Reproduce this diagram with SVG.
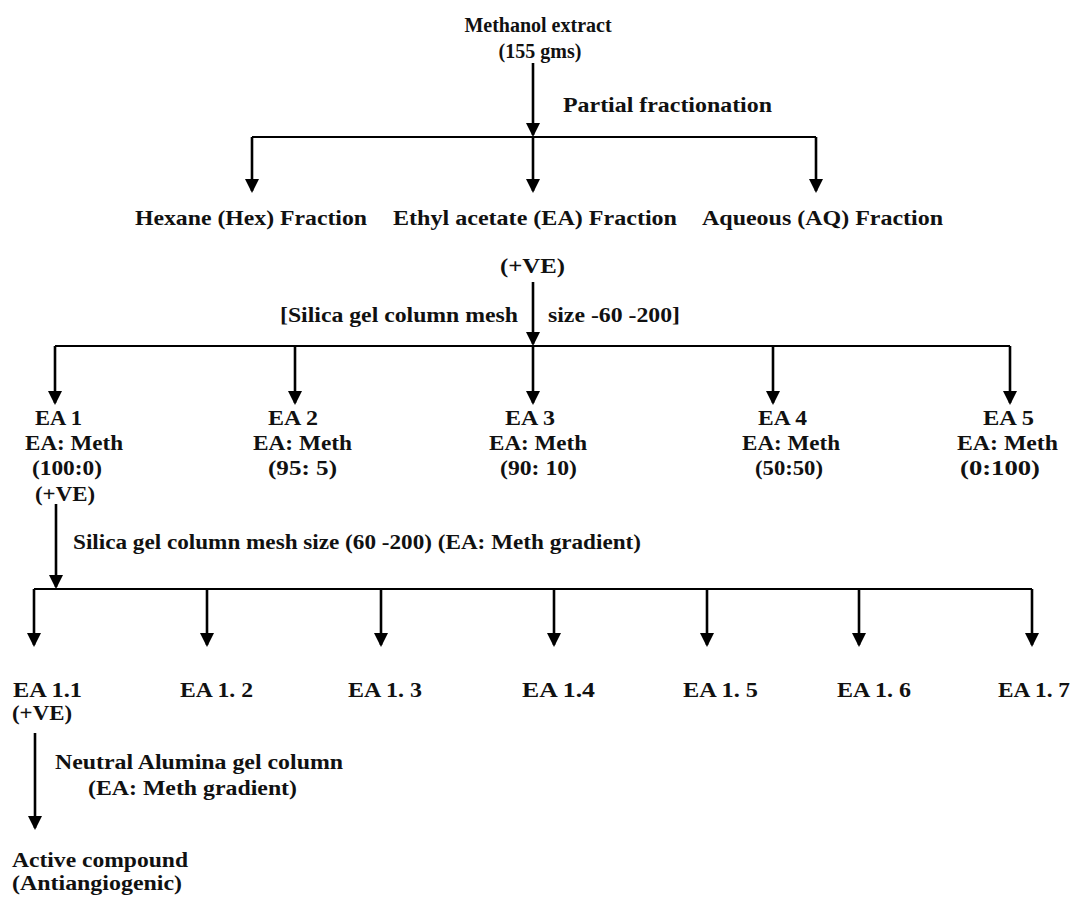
<svg xmlns="http://www.w3.org/2000/svg" width="1078" height="897" viewBox="0 0 1078 897">
<defs>
<marker id="ah" viewBox="0 0 14 14" markerWidth="14" markerHeight="14" refX="12" refY="7" orient="auto" markerUnits="userSpaceOnUse">
<path d="M0,0 L14,7 L0,14 z" fill="#000"/>
</marker>
<style>
text{font-family:"Liberation Serif","Times New Roman",serif;font-weight:bold;font-size:20px;fill:#111}
.big{font-size:20px}
.ln{stroke:#000;stroke-width:2;fill:none}
.ar{stroke:#000;stroke-width:2.6;fill:none;marker-end:url(#ah)}
</style>
</defs>
<rect width="1078" height="897" fill="#fff"/>
<g id="connectors">
<line class="ar" x1="533" y1="63" x2="533" y2="135"/>
<line class="ln" x1="252" y1="137" x2="816" y2="137"/>
<line class="ar" x1="252" y1="137" x2="252" y2="191"/>
<line class="ar" x1="533" y1="137" x2="533" y2="191"/>
<line class="ar" x1="816" y1="137" x2="816" y2="191"/>
<line class="ar" x1="533" y1="282" x2="533" y2="344"/>
<line class="ln" x1="55" y1="346" x2="1010" y2="346"/>
<line class="ar" x1="55" y1="346" x2="55" y2="403"/>
<line class="ar" x1="295" y1="346" x2="295" y2="403"/>
<line class="ar" x1="533" y1="346" x2="533" y2="403"/>
<line class="ar" x1="773" y1="346" x2="773" y2="403"/>
<line class="ar" x1="1010" y1="346" x2="1010" y2="403"/>
<line class="ar" x1="56" y1="504" x2="56" y2="587"/>
<line class="ln" x1="34" y1="589" x2="1032" y2="589"/>
<line class="ar" x1="34" y1="589" x2="34" y2="645"/>
<line class="ar" x1="207" y1="589" x2="207" y2="645"/>
<line class="ar" x1="381" y1="589" x2="381" y2="645"/>
<line class="ar" x1="554" y1="589" x2="554" y2="645"/>
<line class="ar" x1="707" y1="589" x2="707" y2="645"/>
<line class="ar" x1="859" y1="589" x2="859" y2="645"/>
<line class="ar" x1="1032" y1="589" x2="1032" y2="645"/>
<line class="ar" x1="35" y1="733" x2="35" y2="828"/>
</g>
<g id="methanol">
<text class="big" x="538" y="32" text-anchor="middle">Methanol extract</text>
<text class="big" x="540" y="58" text-anchor="middle">(155 gms)</text>
</g>
<g id="label-partial">
<text x="563" y="112" textLength="209" lengthAdjust="spacingAndGlyphs">Partial fractionation</text>
</g>
<g id="hexane">
<text x="135" y="225" textLength="232" lengthAdjust="spacingAndGlyphs">Hexane (Hex) Fraction</text>
</g>
<g id="ethyl-acetate">
<text x="393" y="225" textLength="284" lengthAdjust="spacingAndGlyphs">Ethyl acetate (EA) Fraction</text>
<text x="500" y="273" textLength="65" lengthAdjust="spacingAndGlyphs">(+VE)</text>
</g>
<g id="aqueous">
<text x="702" y="225" textLength="241" lengthAdjust="spacingAndGlyphs">Aqueous (AQ) Fraction</text>
</g>
<g id="label-silica1">
<text x="280" y="322" textLength="238" lengthAdjust="spacingAndGlyphs">[Silica gel column mesh</text>
<text x="548" y="322" textLength="132" lengthAdjust="spacingAndGlyphs">size -60 -200]</text>
</g>
<g id="ea1">
<text x="35" y="425" textLength="47" lengthAdjust="spacingAndGlyphs">EA 1</text>
<text x="25" y="450" textLength="98" lengthAdjust="spacingAndGlyphs">EA: Meth</text>
<text x="32" y="475" textLength="70" lengthAdjust="spacingAndGlyphs">(100:0)</text>
<text x="35" y="501" textLength="60" lengthAdjust="spacingAndGlyphs">(+VE)</text>
</g>
<g id="ea2">
<text x="268" y="425" textLength="50" lengthAdjust="spacingAndGlyphs">EA 2</text>
<text x="253" y="450" textLength="99" lengthAdjust="spacingAndGlyphs">EA: Meth</text>
<text x="268" y="475" textLength="69" lengthAdjust="spacingAndGlyphs">(95: 5)</text>
</g>
<g id="ea3">
<text x="505" y="425" textLength="50" lengthAdjust="spacingAndGlyphs">EA 3</text>
<text x="489" y="450" textLength="98" lengthAdjust="spacingAndGlyphs">EA: Meth</text>
<text x="500" y="475" textLength="77" lengthAdjust="spacingAndGlyphs">(90: 10)</text>
</g>
<g id="ea4">
<text x="758" y="425" textLength="49" lengthAdjust="spacingAndGlyphs">EA 4</text>
<text x="742" y="450" textLength="98" lengthAdjust="spacingAndGlyphs">EA: Meth</text>
<text x="755" y="475" textLength="68" lengthAdjust="spacingAndGlyphs">(50:50)</text>
</g>
<g id="ea5">
<text x="983" y="425" textLength="51" lengthAdjust="spacingAndGlyphs">EA 5</text>
<text x="957" y="450" textLength="101" lengthAdjust="spacingAndGlyphs">EA: Meth</text>
<text x="960" y="475" textLength="80" lengthAdjust="spacingAndGlyphs">(0:100)</text>
</g>
<g id="label-silica2">
<text x="73" y="549" textLength="568" lengthAdjust="spacingAndGlyphs">Silica gel column mesh size (60 -200) (EA: Meth gradient)</text>
</g>
<g id="ea1-1">
<text x="13" y="697" textLength="69" lengthAdjust="spacingAndGlyphs">EA 1.1</text>
<text x="12" y="720" textLength="60" lengthAdjust="spacingAndGlyphs">(+VE)</text>
</g>
<g id="ea1-2"><text x="180" y="697" textLength="73" lengthAdjust="spacingAndGlyphs">EA 1. 2</text></g>
<g id="ea1-3"><text x="348" y="697" textLength="74" lengthAdjust="spacingAndGlyphs">EA 1. 3</text></g>
<g id="ea1-4"><text x="522" y="697" textLength="73" lengthAdjust="spacingAndGlyphs">EA 1.4</text></g>
<g id="ea1-5"><text x="683" y="697" textLength="75" lengthAdjust="spacingAndGlyphs">EA 1. 5</text></g>
<g id="ea1-6"><text x="837" y="697" textLength="74" lengthAdjust="spacingAndGlyphs">EA 1. 6</text></g>
<g id="ea1-7"><text x="998" y="697" textLength="72" lengthAdjust="spacingAndGlyphs">EA 1. 7</text></g>
<g id="label-alumina">
<text x="55" y="769" textLength="288" lengthAdjust="spacingAndGlyphs">Neutral Alumina gel column</text>
<text x="88" y="795" textLength="209" lengthAdjust="spacingAndGlyphs">(EA: Meth gradient)</text>
</g>
<g id="active-compound">
<text x="12" y="867" textLength="176" lengthAdjust="spacingAndGlyphs">Active compound</text>
<text x="12" y="890" textLength="170" lengthAdjust="spacingAndGlyphs">(Antiangiogenic)</text>
</g>
</svg>
